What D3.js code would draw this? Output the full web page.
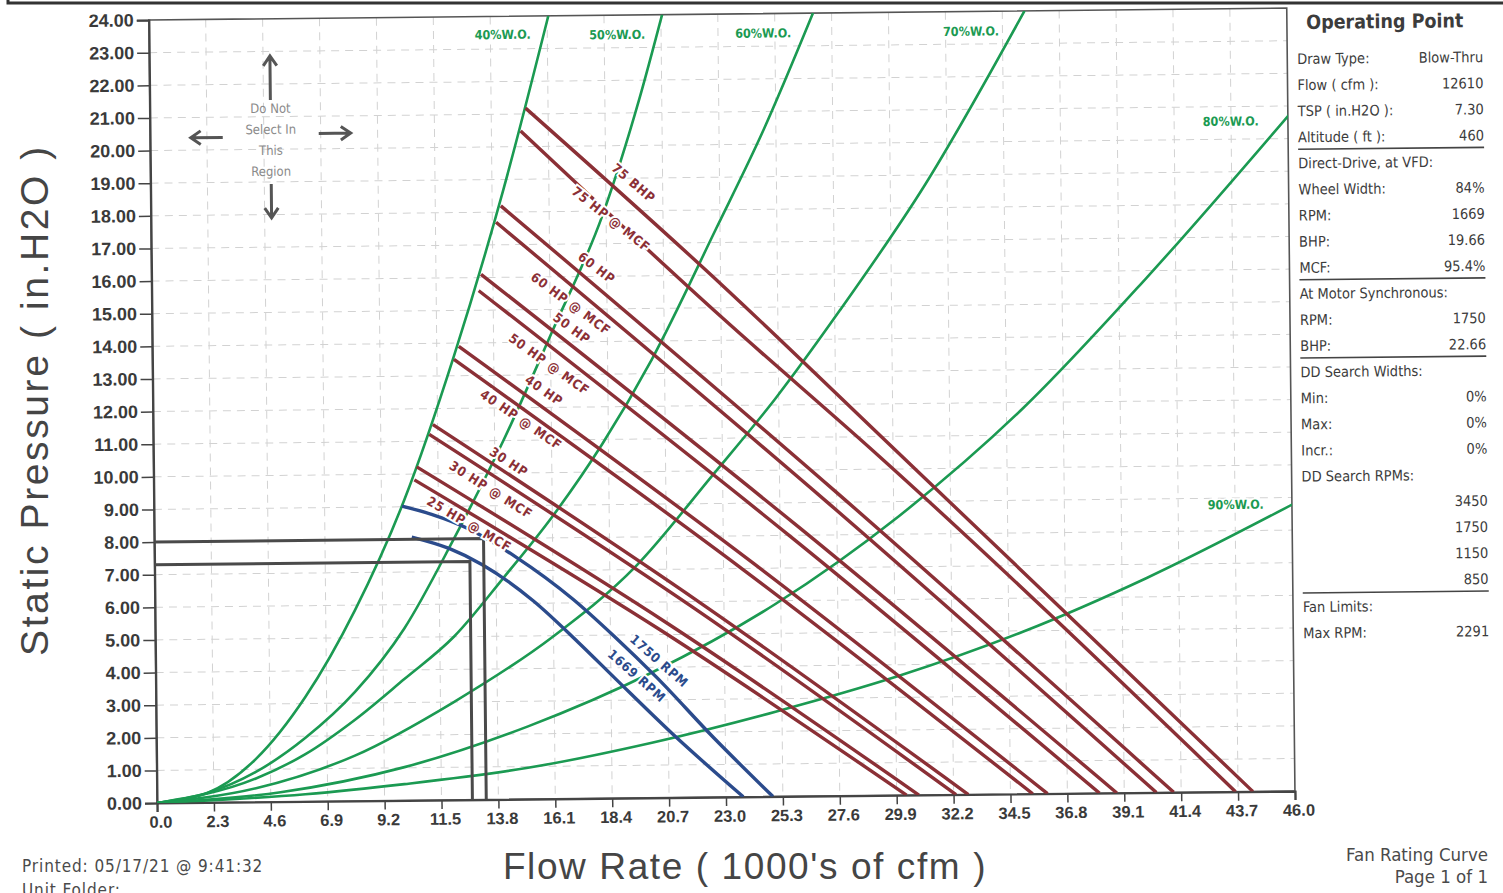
<!DOCTYPE html>
<html>
<head>
<meta charset="utf-8">
<title>Fan Rating Curve</title>
<script src="https://cdnjs.cloudflare.com/ajax/libs/d3/7.8.5/d3.min.js"></script>
<style>
  body { margin: 0; background: #fff; }
  svg { display: block; font-family: "Liberation Sans Narrow", "DejaVu Sans Condensed", "Liberation Sans", Arial, sans-serif; font-stretch: condensed; }
  .tick text { font-weight: bold; fill: #3a3a3a; }
  .panel text { fill: #3c3c3c; font-size: 14.5px; }
</style>
</head>
<body>
<svg id="chart" width="1503" height="893"></svg>
<script>
// ---- data (x = 1000's of cfm, y = in.H2O) ----
var xTicks = [0.0, 2.3, 4.6, 6.9, 9.2, 11.5, 13.8, 16.1, 18.4, 20.7, 23.0, 25.3, 27.6, 29.9, 32.2, 34.5, 36.8, 39.1, 41.4, 43.7, 46.0]
var yTicks = [0, 1, 2, 3, 4, 5, 6, 7, 8, 9, 10, 11, 12, 13, 14, 15, 16, 17, 18, 19, 20, 21, 22, 23, 24]

// system curves, % wide open
var wo40 = [[0,0],[2,0.28],[4.02,1.32],[6.04,3.2],[8.08,5.84],[10.13,9.22],[12.19,13.6],[14.26,18.69],[16.15,24.0]]
var wo50 = [[0,0],[2,0.28],[4.01,0.92],[6.03,1.95],[8.05,3.34],[10.07,5.27],[12.11,8.0],[14.15,10.99],[16.2,14.37],[18.25,17.86],[19.8,21.44],[20.75,24.0]]
var wo60 = [[0,0],[4.01,0.72],[6.02,1.45],[8.04,2.49],[10.05,3.72],[12.07,5.0],[14.1,6.79],[16.12,8.67],[18.15,10.86],[20.19,13.44],[22.84,17.42],[24.78,20.4],[26.85,24.0]]
var wo70 = [[0,0],[4.01,0.42],[8.02,1.39],[12.04,3.0],[16.07,4.97],[19.45,7.1],[22.54,9.82],[25.17,12.2],[27.81,14.88],[31.26,18.65],[35.4,24.0]]
var wo80 = [[0,0],[5,0.29],[10.02,1.02],[15.03,2.23],[20.06,3.84],[25.08,5.9],[30.12,8.56],[35.17,11.82],[40.22,15.78],[46.3,20.95]]
var wo90 = [[0,0],[6,0.22],[10.01,0.5],[15.01,0.96],[20.03,1.69],[25.04,2.6],[30.05,3.66],[35.07,4.97],[40.1,6.58],[46.13,8.83]]

// brake horsepower lines
var hp75    = [[15.19,21.18],[23.02,15.72],[29.75,10.76],[44.3,0]]
var hp75mcf = [[14.98,20.48],[23.01,14.72],[29.3,10.42],[43.6,0]]
var hp60    = [[14.15,18.19],[27.63,9.28],[41.1,0]]
var hp60mcf = [[13.95,17.69],[27.18,9.03],[40.4,0]]
var hp50    = [[13.32,16.1],[26.07,8.24],[38.8,0]]
var hp50mcf = [[13.22,15.6],[25.66,8.0],[38.1,0]]
var hp40    = [[12.39,13.9],[24.2,7.16],[36.0,0]]
var hp40mcf = [[12.19,13.5],[23.8,6.96],[35.4,0]]
var hp30    = [[11.31,11.51],[22.03,5.97],[32.8,0]]
var hp30mcf = [[11.16,11.21],[21.73,5.83],[32.3,0]]
var hp25    = [[10.64,10.22],[20.73,5.33],[30.8,0]]
var hp25mcf = [[10.54,9.82],[20.42,5.14],[30.3,0]]

// fan curves
var rpm1750 = [[10.03,9.02],[11.22,8.76],[12.72,8.3],[14.6,7.43],[16.89,6.12],[18.57,4.95],[20.25,3.69],[22.53,1.82],[24.9,0]]
var rpm1669 = [[10.41,8.07],[11.91,7.71],[13.25,7.2],[15.29,6.08],[17.07,4.81],[18.6,3.65],[20.83,1.98],[23.7,0]]

// operating points (flow, pressure)
var opSync = [13.31, 8.0]
var opVfd = [12.75, 7.3]

var woLabels = [["40%W.O.", 14.3, 23.44], ["50%W.O.", 18.93, 23.4], ["60%W.O.", 24.83, 23.4], ["70%W.O.", 33.23, 23.39], ["80%W.O.", 43.69, 20.55], ["90%W.O.", 43.73, 8.8]]
var hpLabels = [["75 BHP", 19.53, 18.85, 41], ["75 HP @ MCF", 18.6, 17.75, 39], ["60 HP", 18.0, 16.26, 38],
  ["60 HP @ MCF", 16.94, 15.17, 37], ["50 HP", 16.97, 14.42, 37], ["50 HP @ MCF", 16.04, 13.32, 36],
  ["40 HP", 15.82, 12.52, 36], ["40 HP @ MCF", 14.88, 11.63, 35], ["30 HP", 14.37, 10.34, 34],
  ["30 HP @ MCF", 13.63, 9.49, 33], ["25 HP @ MCF", 12.74, 8.45, 31]]
var rpmLabels = [["1750 RPM", 20.36, 4.19, 42], ["1669 RPM", 19.45, 3.74, 42]]

var panelRows = [["Draw Type:", "Blow-Thru"], ["Flow ( cfm ):", "12610"], ["TSP ( in.H2O ):", "7.30"], ["Altitude ( ft ):", "460"],
  ["Direct-Drive, at VFD:", ""], ["Wheel Width:", "84%"], ["RPM:", "1669"], ["BHP:", "19.66"], ["MCF:", "95.4%"],
  ["At Motor Synchronous:", ""], ["RPM:", "1750"], ["BHP:", "22.66"],
  ["DD Search Widths:", ""], ["Min:", "0%"], ["Max:", "0%"], ["Incr.:", "0%"], ["DD Search RPMs:", ""],
  ["", "3450"], ["", "1750"], ["", "1150"], ["", "850"],
  ["Fan Limits:", ""], ["Max RPM:", "2291"]]
var panelRules = [3, 8, 11, 20]   // rule drawn below these rows

var green = '#1b9a52', red = '#8b3036', blue = '#2b4b8c', gray = '#4a4a4a'

var svg = d3.select('#chart')
var pL = 157, pR = 1295, pT = 20, pB = 803

var x = d3.scaleLinear().domain([0, 46]).range([pL, pR])
var y = d3.scaleLinear().domain([0, 24]).range([pB, pT])

// page border at the top
svg.append('path').attr('d', 'M8,-5 V3 H1503').attr('fill', 'none').attr('stroke', '#333').attr('stroke-width', 3)

// the scanned sheet sits a little skewed, so the chart is turned slightly
var chart = svg.append('g').attr('transform', 'rotate(-0.6,' + pL + ',' + pB + ')')

// grid
chart.append('g').selectAll('line').data(yTicks.slice(1, -1)).enter().append('line')
  .attr('x1', pL).attr('x2', pR).attr('y1', function(d){ return y(d) }).attr('y2', function(d){ return y(d) })
  .attr('stroke', '#d2d2d2').attr('stroke-dasharray', '8,6')
chart.append('g').selectAll('line').data(xTicks.slice(1, -1)).enter().append('line')
  .attr('y1', pT).attr('y2', pB).attr('x1', function(d){ return x(d) }).attr('x2', function(d){ return x(d) })
  .attr('stroke', '#d2d2d2').attr('stroke-dasharray', '8,6')

// frame
chart.append('rect').attr('x', pL).attr('y', pT).attr('width', pR - pL).attr('height', pB - pT)
  .attr('fill', 'none').attr('stroke', '#555').attr('stroke-width', 1.6)

// axes
var yAxis = chart.append('g').attr('transform', 'translate(' + pL + ',0)')
  .call(d3.axisLeft(y).tickValues(yTicks).tickFormat(d3.format('.2f')).tickSize(12).tickPadding(3))
var xAxis = chart.append('g').attr('transform', 'translate(0,' + pB + ')')
  .call(d3.axisBottom(x).tickValues(xTicks).tickFormat(d3.format('.1f')).tickSize(9).tickPadding(4))
yAxis.selectAll('text').style('font-size', '18px')
xAxis.selectAll('text').style('font-size', '16.5px').attr('dx', '0.2em')
chart.selectAll('.domain').attr('stroke', '#444').attr('stroke-width', 2.2)
chart.selectAll('.tick line').attr('stroke', '#444').attr('stroke-width', 1.5)

// clip
svg.append('clipPath').attr('id', 'plot').append('rect')
  .attr('x', pL).attr('y', pT).attr('width', pR - pL).attr('height', pB - pT)
var plot = chart.append('g').attr('clip-path', 'url(#plot)')

var line = d3.line().x(function(d){ return x(d[0]) }).y(function(d){ return y(d[1]) }).curve(d3.curveMonotoneX)

plot.selectAll('path.wo').data([wo40, wo50, wo60, wo70, wo80, wo90]).enter().append('path')
  .attr('d', line).attr('fill', 'none').attr('stroke', green).attr('stroke-width', 2.6)

plot.selectAll('path.hp').data([hp75, hp75mcf, hp60, hp60mcf, hp50, hp50mcf, hp40, hp40mcf, hp30, hp30mcf, hp25, hp25mcf]).enter().append('path')
  .attr('d', line).attr('fill', 'none').attr('stroke', red).attr('stroke-width', 3.4)

plot.selectAll('path.rpm').data([rpm1750, rpm1669]).enter().append('path')
  .attr('d', line).attr('fill', 'none').attr('stroke', blue).attr('stroke-width', 3.4)

// operating point lines
plot.selectAll('path.op').data([opSync, opVfd]).enter().append('path')
  .attr('d', function(d){ return 'M' + x(0) + ',' + y(d[1]) + 'H' + x(d[0]) + 'V' + y(0) })
  .attr('fill', 'none').attr('stroke', gray).attr('stroke-width', 3)

// curve labels with white halo
function rotLabels(data, color, size) {
  chart.append('g').selectAll('text').data(data).enter().append('text')
    .attr('transform', function(d){ return 'translate(' + x(d[1]) + ',' + y(d[2]) + ') rotate(' + d[3] + ')' })
    .attr('text-anchor', 'middle').attr('dy', '0.35em')
    .style('font-size', size + 'px').style('font-weight', 'bold').style('letter-spacing', '0.8px')
    .attr('fill', color).attr('stroke', '#fff').attr('stroke-width', 4).style('paint-order', 'stroke')
    .text(function(d){ return d[0] })
}
rotLabels(hpLabels, red, 13)
rotLabels(rpmLabels, blue, 13)

chart.append('g').selectAll('text').data(woLabels).enter().append('text')
  .attr('x', function(d){ return x(d[1]) }).attr('y', function(d){ return y(d[2]) })
  .attr('text-anchor', 'middle').attr('dy', '0.35em')
  .style('font-size', '12.5px').style('font-weight', 'bold')
  .attr('fill', green).attr('stroke', '#fff').attr('stroke-width', 3).style('paint-order', 'stroke')
  .text(function(d){ return d[0] })

// "do not select" region
var cx = x(4.88), cy = y(20.41)
var warn = chart.append('g').attr('fill', '#8a8a8a').style('font-size', '13px').attr('text-anchor', 'middle')
;['Do Not', 'Select In', 'This', 'Region'].forEach(function(t, i){
  warn.append('text').attr('x', cx).attr('y', cy - 23 + i * 21).text(t)
})
var arrows = [[0, -36, 0, -80], [0, 48, 0, 82], [-48, 1, -80, 1], [48, -2, 80, -2]]
chart.append('g').selectAll('path').data(arrows).enter().append('path')
  .attr('d', function(a){
    var x1 = cx + a[0], y1 = cy + a[1], x2 = cx + a[2], y2 = cy + a[3]
    var ang = Math.atan2(y2 - y1, x2 - x1), h = 12
    var p1 = [x2 - h * Math.cos(ang - 0.6), y2 - h * Math.sin(ang - 0.6)]
    var p2 = [x2 - h * Math.cos(ang + 0.6), y2 - h * Math.sin(ang + 0.6)]
    return 'M' + x1 + ',' + y1 + 'L' + x2 + ',' + y2 + 'M' + p1 + 'L' + x2 + ',' + y2 + 'L' + p2
  })
  .attr('fill', 'none').attr('stroke', '#555').attr('stroke-width', 3)

// axis titles
svg.append('text').attr('transform', 'translate(48,400) rotate(-90)').attr('text-anchor', 'middle')
  .style('font-family', '"Liberation Sans", Arial, sans-serif').style('font-stretch', 'normal')
  .style('font-size', '39px').style('letter-spacing', '2.6px').attr('fill', '#454545')
  .text('Static Pressure ( in.H2O )')
svg.append('text').attr('x', 745).attr('y', 879).attr('text-anchor', 'middle')
  .style('font-family', '"Liberation Sans", Arial, sans-serif').style('font-stretch', 'normal')
  .style('font-size', '37px').style('letter-spacing', '1.6px').attr('fill', '#454545')
  .text("Flow Rate ( 1000's of cfm )")

// footer
var foot = svg.append('g').attr('fill', '#4a4a4a')
foot.append('text').attr('x', 22).attr('y', 872).style('font-size', '17px').style('letter-spacing', '0.9px').text('Printed: 05/17/21 @  9:41:32')
foot.append('text').attr('x', 22).attr('y', 896).style('font-size', '17px').style('letter-spacing', '0.9px').text('Unit Folder:')
foot.append('text').attr('x', 1488).attr('y', 861).attr('text-anchor', 'end').style('font-size', '18.5px').text('Fan Rating Curve')
foot.append('text').attr('x', 1488).attr('y', 883).attr('text-anchor', 'end').style('font-size', '18.5px').text('Page 1 of 1')

// operating point panel
var panel = svg.append('g').attr('class', 'panel').attr('transform', 'rotate(-0.6,1393,330)')
panel.append('text').attr('x', 1388).attr('y', 28).attr('text-anchor', 'middle')
  .style('font-size', '19.5px').style('font-weight', 'bold').attr('fill', '#505050').text('Operating Point')
var rowY = function(i){ return 63 + i * 26.1 }
panel.selectAll('text.lab').data(panelRows).enter().append('text')
  .attr('x', 1300).attr('y', function(d, i){ return rowY(i) }).text(function(d){ return d[0] })
panel.selectAll('text.val').data(panelRows).enter().append('text')
  .attr('x', 1486).attr('y', function(d, i){ return rowY(i) }).attr('text-anchor', 'end').text(function(d){ return d[1] })
panel.selectAll('line').data(panelRules).enter().append('line')
  .attr('x1', 1300).attr('x2', 1486).attr('y1', function(d){ return rowY(d) + 7 }).attr('y2', function(d){ return rowY(d) + 7 })
  .attr('stroke', '#444').attr('stroke-width', 1.6)
</script>
</body>
</html>
